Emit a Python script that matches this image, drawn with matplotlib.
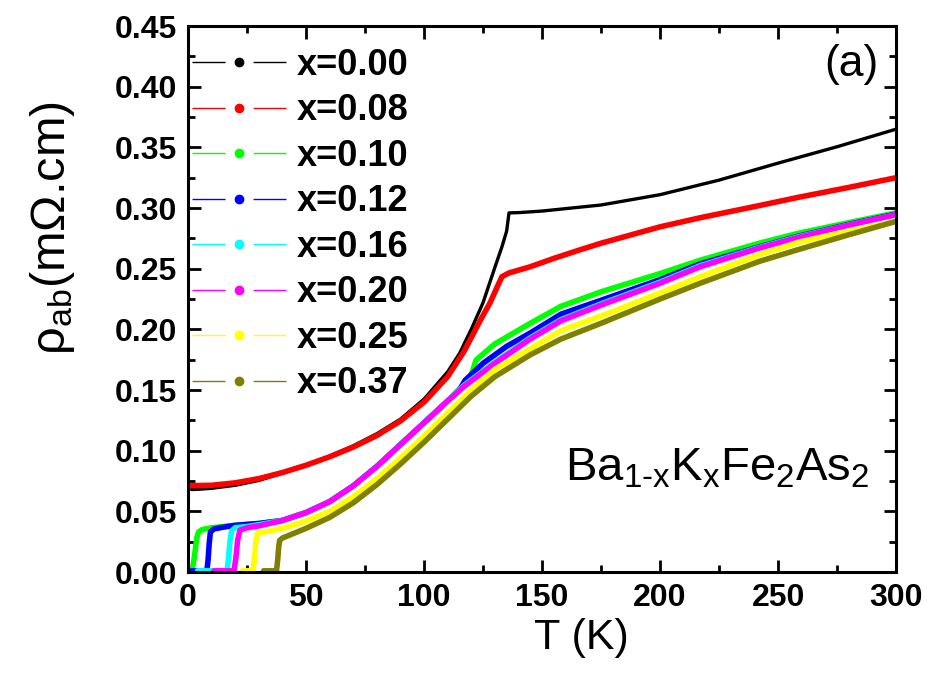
import matplotlib
matplotlib.use('Agg')
import matplotlib.pyplot as plt
from matplotlib.lines import Line2D

plt.rcParams['font.family'] = ['Liberation Sans', 'DejaVu Sans']
plt.rcParams['mathtext.fontset'] = 'custom'
plt.rcParams['mathtext.rm'] = 'Liberation Sans'
plt.rcParams['mathtext.it'] = 'Liberation Sans'

# rho_ab (mOhm.cm) vs T (K)
labels = ['x=0.00', 'x=0.08', 'x=0.10', 'x=0.12', 'x=0.16', 'x=0.20', 'x=0.25', 'x=0.37']
colors = ['#000000', '#ff0000', '#00ff00', '#0000ff', '#00ffff', '#ff00ff', '#ffff00', '#808000']

T_000 = [1.5, 5, 10, 20, 30, 40, 50, 60, 70, 80, 90, 100, 110, 115, 120, 125, 130, 133, 135, 136,
         140, 150, 175, 200, 225, 250, 275, 300]
rho_000 = [0.068, 0.0683, 0.069, 0.0715, 0.0755, 0.0815, 0.088, 0.0955, 0.104, 0.114, 0.126, 0.1425,
           0.165, 0.180, 0.200, 0.222, 0.251, 0.268, 0.281, 0.296,
           0.2962, 0.2975, 0.3025, 0.311, 0.323, 0.337, 0.3505, 0.365]

T_008 = [1.5, 10, 20, 30, 40, 50, 60, 70, 80, 90, 100, 110, 117, 124, 128, 131, 133, 136,
         145, 155, 166, 175, 200, 217, 242, 259, 280, 300]
rho_008 = [0.0712, 0.0715, 0.0735, 0.077, 0.082, 0.088, 0.095, 0.103, 0.1125, 0.1245, 0.140, 0.161,
           0.182, 0.208, 0.222, 0.235, 0.2434, 0.2465, 0.2516, 0.2585, 0.2655, 0.271, 0.2845,
           0.292, 0.302, 0.309, 0.317, 0.325]

T_010 = [1.5, 2.2, 2.8, 3.3, 3.8, 4.5, 6, 10, 20, 30, 40, 50, 60, 70, 80, 90, 100, 110, 117, 120,
         122, 130, 145, 158, 175, 200, 217, 242, 259, 280, 300]
rho_010 = [0.001, 0.006, 0.014, 0.022, 0.029, 0.033, 0.035, 0.0365, 0.0385, 0.040, 0.0425, 0.049,
           0.058, 0.071, 0.087, 0.105, 0.123, 0.141, 0.155, 0.162, 0.1747, 0.188, 0.205, 0.219,
           0.231, 0.246, 0.257, 0.271, 0.2794, 0.288, 0.296]

T_012 = [0.5, 4, 8.0, 8.5, 9.0, 9.5, 11, 15, 20, 30, 40, 50, 60, 70, 80, 90, 100, 110, 115, 117.4,
         125, 135, 145, 158, 175, 200, 217, 242, 259, 280, 300]
rho_012 = [0.001, 0.001, 0.001, 0.010, 0.024, 0.033, 0.0355, 0.037, 0.0385, 0.040, 0.0425, 0.049,
           0.058, 0.071, 0.087, 0.105, 0.123, 0.141, 0.150, 0.158, 0.172, 0.186, 0.197, 0.2125,
           0.224, 0.241, 0.254, 0.268, 0.277, 0.2865, 0.295]

T_016 = [4, 10, 16.5, 17.2, 17.8, 18.5, 20, 25, 30, 40, 50, 60, 70, 80, 90, 100, 110, 117, 130,
         145, 158, 175, 200, 217, 242, 259, 280, 300]
rho_016 = [0.001, 0.001, 0.001, 0.012, 0.026, 0.034, 0.0365, 0.0375, 0.039, 0.0425, 0.049, 0.058,
           0.071, 0.087, 0.105, 0.123, 0.141, 0.154, 0.173, 0.193, 0.208, 0.221, 0.239, 0.2525,
           0.2675, 0.2765, 0.286, 0.2945]

T_020 = [11, 15, 19.5, 20.3, 21.0, 22, 25, 30, 40, 50, 60, 70, 80, 90, 100, 110, 117, 130, 145,
         158, 175, 200, 217, 242, 259, 280, 300]
rho_020 = [0.001, 0.001, 0.001, 0.012, 0.026, 0.0345, 0.0365, 0.038, 0.0425, 0.049, 0.058, 0.071,
           0.087, 0.105, 0.123, 0.141, 0.153, 0.172, 0.192, 0.207, 0.220, 0.238, 0.2516, 0.267,
           0.276, 0.286, 0.2945]

T_025 = [23, 27.5, 28.2, 28.8, 29.5, 32, 35, 40, 50, 60, 70, 80, 90, 100, 110, 120, 130, 145, 158,
         175, 200, 217, 242, 259, 280, 300]
rho_025 = [0.001, 0.001, 0.012, 0.026, 0.032, 0.033, 0.034, 0.036, 0.042, 0.050, 0.062, 0.077,
           0.094, 0.112, 0.131, 0.150, 0.167, 0.184, 0.199, 0.211, 0.230, 0.2434, 0.2615, 0.272,
           0.281, 0.289]

T_037 = [32, 37.5, 38.0, 38.4, 38.8, 40, 50, 60, 70, 80, 90, 100, 110, 120, 130, 145, 158, 175,
         200, 217, 242, 259, 280, 300]
rho_037 = [0.001, 0.001, 0.010, 0.020, 0.026, 0.028, 0.036, 0.045, 0.057, 0.072, 0.089, 0.107,
           0.126, 0.145, 0.161, 0.179, 0.192, 0.205, 0.225, 0.238, 0.256, 0.266, 0.278, 0.289]

series = [(T_000, rho_000), (T_008, rho_008), (T_010, rho_010), (T_012, rho_012),
          (T_016, rho_016), (T_020, rho_020), (T_025, rho_025), (T_037, rho_037)]

fig = plt.figure(figsize=(9.28, 6.76), dpi=100)
ax = fig.add_axes([0.2026, 0.1538, 0.763, 0.8077])

for i, ((T, rho), c) in enumerate(zip(series, colors)):
    ax.plot(T, rho, color=c, lw=2.4 if i == 0 else 4.0, solid_capstyle='round',
            solid_joinstyle='round')

ax.set_xlim(0, 300)
ax.set_ylim(0, 0.45)
ax.set_xticks(range(0, 301, 50))
ax.set_xticks(range(25, 300, 50), minor=True)
ax.set_yticks([i * 0.05 for i in range(10)])
ax.set_yticks([0.025 + i * 0.05 for i in range(9)], minor=True)
ax.yaxis.set_major_formatter(matplotlib.ticker.FormatStrFormatter('%.2f'))
ax.tick_params(which='both', direction='in', top=True, right=True, width=2)
ax.tick_params(which='major', length=9, labelsize=23, pad=8)
ax.tick_params(which='minor', length=5)
for lab in ax.get_xticklabels() + ax.get_yticklabels():
    lab.set_fontweight('bold')
for s in ax.spines.values():
    s.set_linewidth(2.2)

ax.set_xlabel('T (K)', fontsize=31)
ax.xaxis.set_label_coords(0.556, -0.085)
ax.set_ylabel(r'ρ$_{\mathregular{ab}}$(mΩ.cm)', fontsize=35)
ax.yaxis.set_label_coords(-0.157, 0.63)

F = 26
handles = [Line2D([], [], color=c, lw=1, marker='o', ms=6, dashes=(23.8, 20.2)) for c in colors]
leg = ax.legend(handles, labels, loc='upper left', bbox_to_anchor=(0.006, 0.96), frameon=False,
                handlelength=67.7 / F, handletextpad=7.2 / F, labelspacing=0.29,
                borderpad=0, borderaxespad=0, numpoints=1,
                prop={'weight': 'bold', 'size': F})

ax.text(0.975, 0.93, '(a)', transform=ax.transAxes, fontsize=32, ha='right', va='center')
ax.text(0.962, 0.19,
        r'Ba$_{\mathregular{1\text{-}x}}$K$_{\mathregular{x}}$Fe$_{\mathregular{2}}$As$_{\mathregular{2}}$',
        transform=ax.transAxes, fontsize=34, ha='right', va='center')

fig.savefig('out.png', dpi=100)
